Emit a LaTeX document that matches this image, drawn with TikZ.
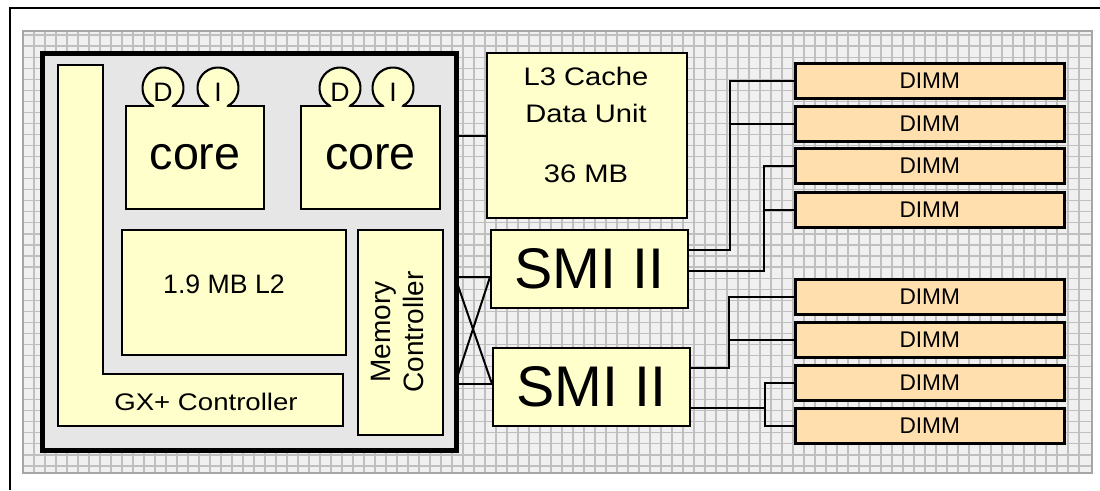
\documentclass[tikz,border=0pt]{standalone}
\usepackage{fontspec}
\setmainfont{Liberation Sans}
\newfontfamily\widesans[FakeStretch=1.15]{Liberation Sans}
\definecolor{ylw}{HTML}{FFFFCC}
\definecolor{dimmc}{HTML}{FFDFAE}
\definecolor{gridbg}{HTML}{F0F0F0}
\definecolor{gridln}{HTML}{BFBFBF}
\definecolor{gridbd}{HTML}{A6A6A6}
\definecolor{chipbg}{HTML}{E6E6E6}
\begin{document}
\begin{tikzpicture}[x=0.75pt,y=-0.75pt,
  ybox/.style={draw, line width=1.6pt, fill=ylw, inner sep=0pt, anchor=north west},
  dimmbox/.style={draw, line width=1.9pt, fill=dimmc, inner sep=0pt, anchor=north west,
    minimum width=201.75pt, minimum height=26.25pt, font=\fontsize{17}{20}\selectfont},
  conn/.style={line width=1.5pt},
  lbl/.style={inner sep=0pt},
  gline/.style={gridln, line width=0.9pt}]
\useasboundingbox (0,0) rectangle (1100,490);
% grid background
\fill[gridbg] (23,31) rectangle (1092,473);
\foreach \i in {1,...,96} \draw[gline] ({23+11*\i},31) -- ({23+11*\i},473);
\foreach \j in {0,...,39} \draw[gline] (23,{35+11.05*\j}) -- (1092,{35+11.05*\j});
\draw[gridbd, line width=1.6pt] (23,31) rectangle (1092,473);
% outer frame
\draw[line width=1.2pt] (10,490) -- (10,8) -- (1100,8);
% chip
\node[draw, line width=3.75pt, fill=chipbg, anchor=north west, inner sep=0pt,
  minimum width=310.875pt, minimum height=298.125pt] (chip) at (39.5,50.5) {};
% GX+ controller L shape
\draw[line width=1.6pt, fill=ylw] (58,65) -- (103,65) -- (103,374) -- (343,374) -- (343,426) -- (58,426) -- cycle;
\node[lbl, font=\widesans\fontsize{18}{21}\selectfont] (gx) at (206,402) {GX+ Controller};
% cores
\node[ybox, minimum width=103.5pt, minimum height=77.25pt, font=\fontsize{35}{40}\selectfont] (core1) at (125,105) {core};
\node[ybox, minimum width=104.25pt, minimum height=77.25pt, font=\fontsize{35}{40}\selectfont] (core2) at (300,105) {core};
% D / I caches
\foreach \cx in {163,218,340,393} {
  \fill[ylw] (\cx,88) circle (20.5);
  \draw[line width=1.6pt] (\cx,88) ++(62:20.5) arc (62:-242:20.5);
}
\node[lbl, font=\fontsize{20}{23}\selectfont] (cd1) at (163,92.5) {D};
\node[lbl, font=\fontsize{20}{23}\selectfont] (ci1) at (218,92.5) {I};
\node[lbl, font=\fontsize{20}{23}\selectfont] (cd2) at (340,92.5) {D};
\node[lbl, font=\fontsize{20}{23}\selectfont] (ci2) at (393,92.5) {I};
% L2
\node[ybox, minimum width=168pt, minimum height=93.75pt] (l2) at (121,229) {};
\node[lbl, font=\fontsize{20}{24}\selectfont] (l2t) at (224,284) {1.9 MB L2};
% memory controller
\node[ybox, minimum width=63.75pt, minimum height=153.75pt] (mc) at (357,229) {};
\node[lbl, rotate=90, align=center, font=\fontsize{21}{24.75}\selectfont] (mct) at (398,332) {Memory\\Controller};
% L3
\node[ybox, minimum width=150pt, minimum height=123.75pt] (l3) at (486,52) {};
\node[lbl, anchor=base, font=\widesans\fontsize{19}{22}\selectfont] (l3a) at (586,85.5) {L3 Cache};
\node[lbl, anchor=base, font=\widesans\fontsize{19}{22}\selectfont] (l3b) at (586,122.5) {Data Unit};
\node[lbl, anchor=base, font=\widesans\fontsize{19}{22}\selectfont] (l3c) at (586,182.5) {36 MB};
% SMI
\node[ybox, minimum width=147.75pt, minimum height=58.5pt, font=\fontsize{43}{48}\selectfont] (smi1) at (490,229) {SMI II};
\node[ybox, minimum width=147.75pt, minimum height=58.5pt, font=\fontsize{43}{48}\selectfont] (smi2) at (492,347) {SMI II};
% DIMMs
\node[dimmbox] (dm1) at (794,62) {DIMM};
\node[dimmbox] (dm2) at (794,105) {DIMM};
\node[dimmbox] (dm3) at (794,147) {DIMM};
\node[dimmbox] (dm4) at (794,191) {DIMM};
\node[dimmbox] (dm5) at (794,278) {DIMM};
\node[dimmbox] (dm6) at (794,321) {DIMM};
\node[dimmbox] (dm7) at (794,364) {DIMM};
\node[dimmbox] (dm8) at (794,407) {DIMM};
% connectors
\draw[conn] (chip.east |- l3.west) -- (l3.west);
\coordinate (x1) at (455,277);
\coordinate (x2) at (455,384);
\draw[conn] (x1) -- (x1 -| smi1.west);
\draw[conn] (x2) -- (x2 -| smi2.west);
\draw[conn] (x1) -- (x2 -| smi2.west);
\draw[conn] (x2) -- (x1 -| smi1.west);
\coordinate (j1) at (730,250);
\coordinate (j2) at (764,271);
\coordinate (j3) at (729,368);
\coordinate (j4) at (765,408);
\draw[conn] (j1 -| smi1.east) -- (j1) |- (dm1.west);
\draw[conn] (j1 |- dm2.west) -- (dm2.west);
\draw[conn] (j2 -| smi1.east) -- (j2) |- (dm3.west);
\draw[conn] (j2 |- dm4.west) -- (dm4.west);
\draw[conn] (j3 -| smi2.east) -- (j3) |- (dm5.west);
\draw[conn] (j3 |- dm6.west) -- (dm6.west);
\draw[conn] (j4 -| smi2.east) -- (j4);
\draw[conn] (dm7.west) -| (j4) |- (dm8.west);
\end{tikzpicture}
\end{document}
